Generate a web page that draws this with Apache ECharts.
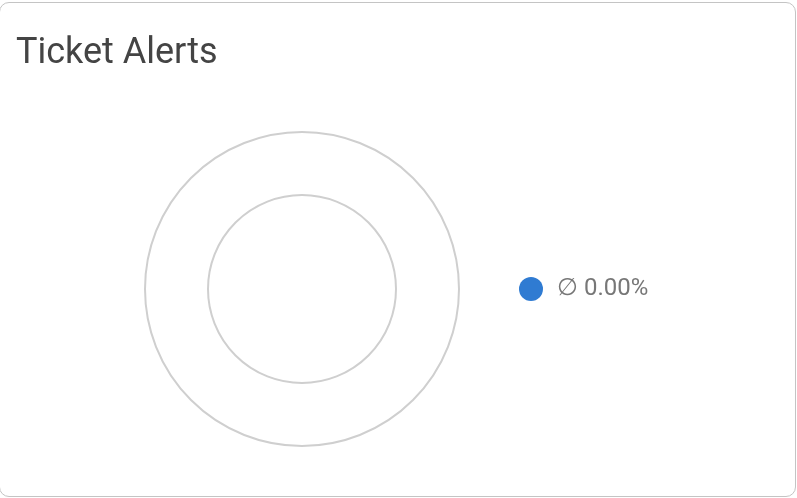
<!DOCTYPE html>
<html>
<head>
<meta charset="utf-8">
<script src="https://cdn.jsdelivr.net/npm/echarts@6/dist/echarts.min.js"></script>
<style>
html,body{margin:0;padding:0;background:#fff;width:797px;height:498px;overflow:hidden;}
#card{position:absolute;left:-1px;top:2px;width:795px;height:493px;border:1.5px solid #c4c4c4;border-radius:10px;box-sizing:content-box;}
#chart{position:absolute;left:0;top:0;width:797px;height:498px;}
</style>
</head>
<body>
<div id="card"></div>
<div id="chart"></div>
<script>
const titleText = 'Ticket Alerts';
const categories = ['∅ 0.00%'];
const values = [0];
const colors = ['#2f7bd2'];

const chart = echarts.init(document.getElementById('chart'), null, {renderer: 'canvas'});
chart.setOption({
  animation: false,
  color: colors,
  title: {
    text: titleText,
    left: 16,
    top: 36,
    padding: 0,
    textStyle: {fontFamily: 'Roboto', fontSize: 36, fontWeight: 'normal', color: '#444444'}
  },
  legend: {
    orient: 'vertical',
    left: 519,
    top: 277,
    padding: 0,
    itemWidth: 24,
    itemHeight: 24,
    icon: 'circle',
    data: categories.map((c, i) => ({name: c, itemStyle: {color: colors[i], borderWidth: 0}})),
    textStyle: {fontFamily: 'Roboto', fontSize: 24, color: '#777777', padding: [0, 0, 0, 9]},
    selectedMode: false
  },
  series: [{
    type: 'pie',
    center: [302, 289],
    radius: [94, 157],
    stillShowZeroSum: true,
    label: {show: false},
    labelLine: {show: false},
    silent: true,
    itemStyle: {color: 'rgba(0,0,0,0)', borderColor: '#cfcfcf', borderWidth: 2},
    emphasis: {disabled: true},
    data: categories.map((c, i) => ({name: c, value: values[i]}))
  }]
});
</script>
</body>
</html>
